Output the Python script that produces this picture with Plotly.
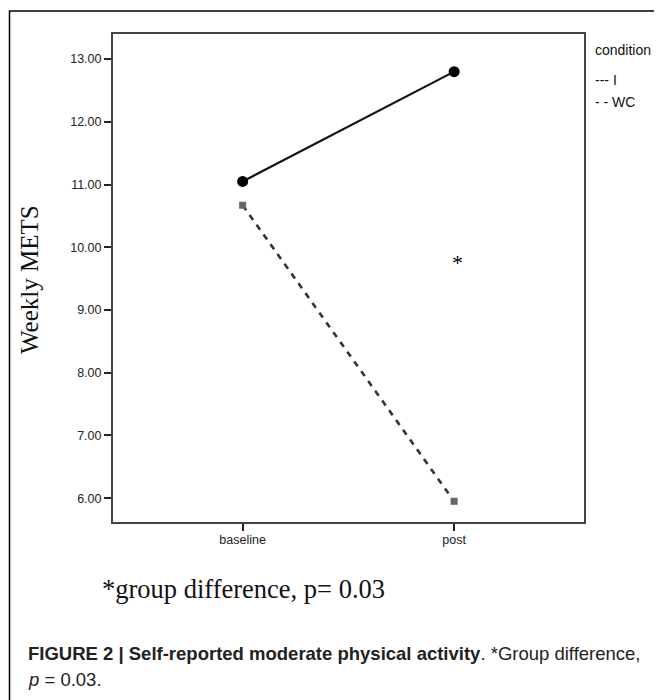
import plotly.graph_objects as go

categories = ["baseline", "post"]
group_I = [11.05, 12.80]
group_WC = [10.67, 5.95]
y_ticks = [6, 7, 8, 9, 10, 11, 12, 13]
y_tick_labels = ["6.00", "7.00", "8.00", "9.00", "10.00", "11.00", "12.00", "13.00"]
star_pos = ("post", 9.76)

W, H = 662, 700
OFF = 8  # page body margin offset
narrow = "Liberation Sans Narrow, Arial Narrow, Liberation Sans, Arial, sans-serif"
serif = "Liberation Serif, Times New Roman, serif"

fig = go.Figure()
fig.add_trace(go.Scatter(
    x=categories, y=group_I, mode="lines+markers", name="I",
    line=dict(color="#111111", width=2.2),
    marker=dict(symbol="circle", size=11, color="#000000"),
    showlegend=False))
fig.add_trace(go.Scatter(
    x=categories, y=group_WC, mode="lines+markers", name="WC",
    line=dict(color="#333333", width=2.6, dash="6px,6px"),
    marker=dict(symbol="square", size=7, color="#666666"),
    showlegend=False))

fig.add_annotation(x=star_pos[0], y=star_pos[1], xref="x", yref="y", text="*",
                   showarrow=False, font=dict(family=serif, size=22, color="#000"),
                   xshift=3)

def px(xp):
    return (xp - OFF) / W

def py(yp):
    return 1 - (yp - OFF) / H

# legend text
leg_font = dict(family=narrow, size=14, color="#111")
fig.add_annotation(x=px(593), y=py(50), xref="paper", yref="paper", text="condition",
                   xanchor="left", yanchor="middle", showarrow=False, font=leg_font)
fig.add_annotation(x=px(593), y=py(80), xref="paper", yref="paper", text="--- I",
                   xanchor="left", yanchor="middle", showarrow=False, font=leg_font)
fig.add_annotation(x=px(593), y=py(102), xref="paper", yref="paper", text="- - WC",
                   xanchor="left", yanchor="middle", showarrow=False, font=leg_font)

# y axis title
fig.add_annotation(x=px(29), y=py(280), xref="paper", yref="paper", text="Weekly METS",
                   textangle=-90, xanchor="center", yanchor="middle", showarrow=False,
                   font=dict(family=serif, size=25, color="#111"))

# footnote
fig.add_annotation(x=px(100), y=py(589), xref="paper", yref="paper",
                   text="*group difference, p= 0.03",
                   xanchor="left", yanchor="middle", showarrow=False,
                   font=dict(family=serif, size=26.5, color="#111"))

# caption
cap_font = dict(family=narrow, size=18.5, color="#222")
fig.add_annotation(x=px(26), y=py(653), xref="paper", yref="paper",
                   text="<b>FIGURE 2 | Self-reported moderate physical activity</b>. *Group difference,",
                   xanchor="left", yanchor="middle", showarrow=False, font=cap_font)
fig.add_annotation(x=px(26), y=py(679), xref="paper", yref="paper",
                   text="<i>p</i> = 0.03.",
                   xanchor="left", yanchor="middle", showarrow=False, font=cap_font)

# outer frame
fig.add_shape(type="rect", xref="paper", yref="paper",
              x0=px(9.5), x1=1.02, y0=-0.02, y1=py(11),
              line=dict(color="#000", width=1.5))

fig.update_layout(
    width=W, height=H,
    margin=dict(l=0, r=0, t=0, b=0),
    paper_bgcolor="white", plot_bgcolor="white",
    xaxis=dict(domain=[px(113), px(584)], type="category",
               range=[-0.613, 1.614], showgrid=False, zeroline=False,
               showline=True, linecolor="#444", linewidth=2, mirror=True,
               ticks="outside", ticklen=7, tickwidth=1.5, tickcolor="#222",
               ticklabelstandoff=-2,
               tickfont=dict(family=narrow, size=12.5, color="#222")),
    yaxis=dict(domain=[py(522), py(34)], range=[5.62, 13.40],
               tickvals=y_ticks, ticktext=y_tick_labels,
               showgrid=False, zeroline=False,
               showline=True, linecolor="#444", linewidth=2, mirror=True,
               ticks="outside", ticklen=7, tickwidth=1.5, tickcolor="#222",
               tickfont=dict(family=narrow, size=12.5, color="#222")),
)

fig.write_html("out.html")
